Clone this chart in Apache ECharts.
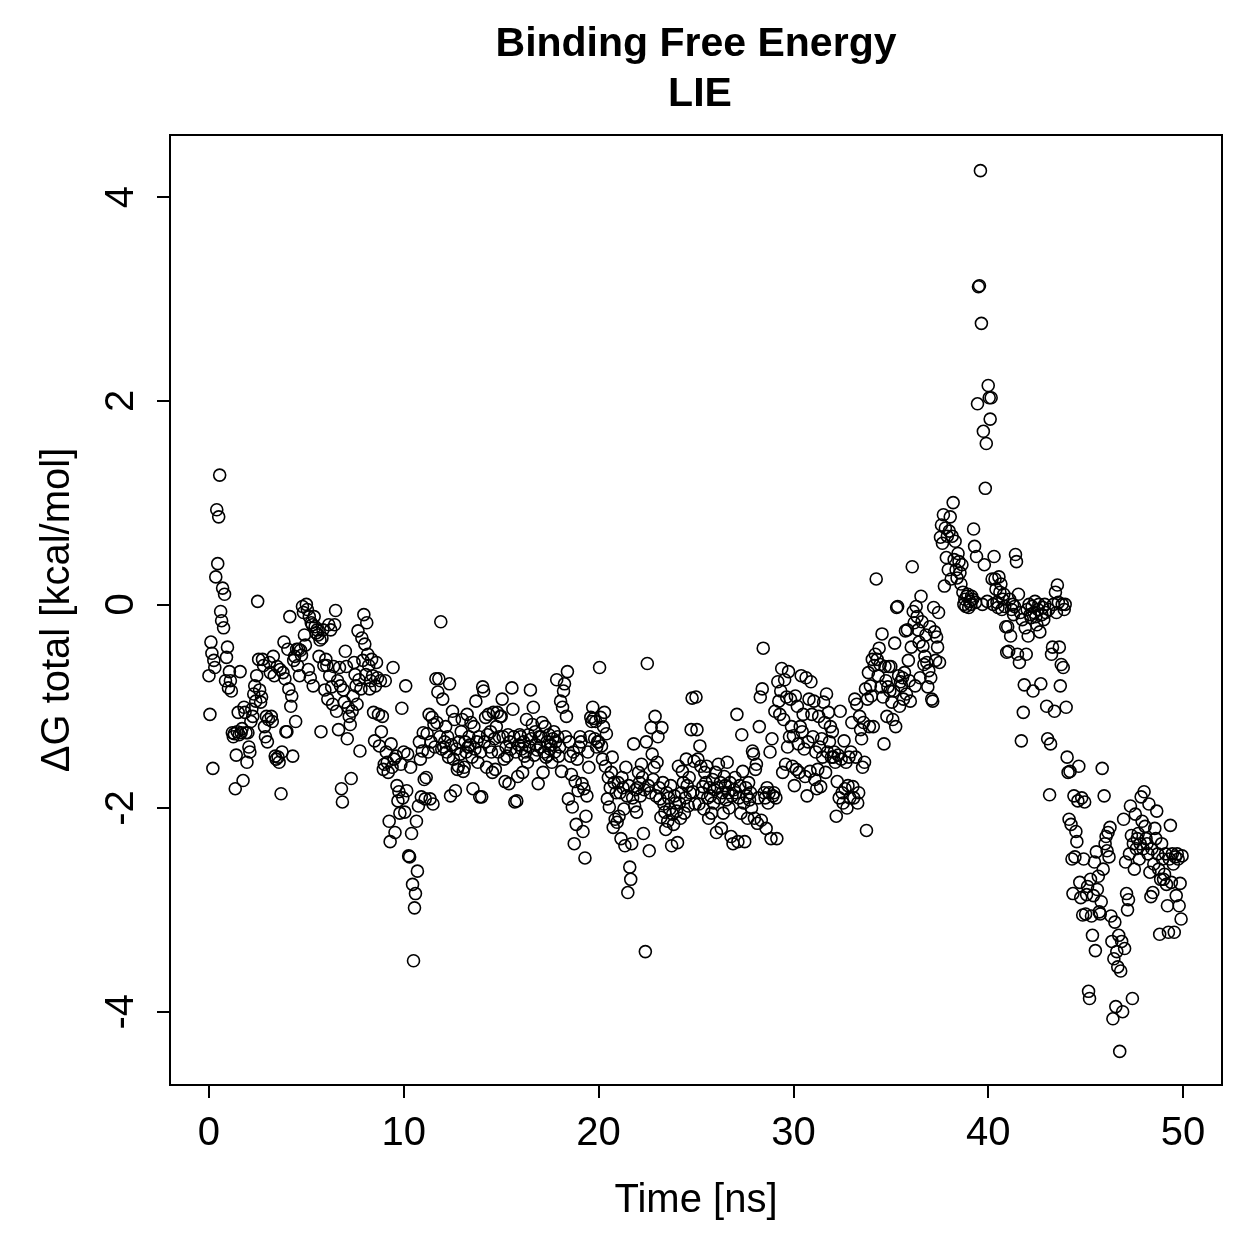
<!DOCTYPE html>
<html>
<head>
<meta charset="utf-8">
<title>Binding Free Energy LIE</title>
<script src="https://cdn.jsdelivr.net/npm/echarts@6/dist/echarts.min.js"></script>
<style>
  html, body { margin: 0; padding: 0; background: #fff; }
  #chart { width: 1259px; height: 1259px; }
</style>
</head>
<body>
<div id="chart"></div>
<script>
// frames are written every 0.05 ns
var frameStep = 0.05

// dG total [kcal/mol], 100 frames per 5 ns
var dG_00_05 = [
  -0.70, -1.08, -0.37, -0.48, -1.61, -0.55, -0.62, 0.27, 0.93, 0.40, 0.86, 1.27, -0.07, -0.16, 0.16, -0.23, 0.10, -0.75, -0.52, -0.42,
  -0.82, -0.66, -0.75, -0.85, -1.26, -1.30, -1.27, -1.81, -1.48, -1.25, -1.06, -1.28, -0.66, -1.26, -1.22, -1.73, -1.01, -1.06, -1.26, -1.55,
  -1.26, -1.40, -1.45, -1.15, -1.03, -1.10, -0.88, -0.80, -0.95, -0.70, 0.03, -0.54, -0.84, -0.96, -0.91, -0.54, -0.60, -1.20, -1.30, -1.10,
  -1.35, -1.13, -0.57, -0.67, -1.10, -1.15, -0.51, -0.70, -1.49, -1.52, -0.61, -1.50, -1.55, -0.64, -1.86, -1.45, -0.67, -0.37, -0.73, -1.25,
  -1.25, -0.44, -0.83, -0.12, -1.00, -0.90, -1.49, -0.55, -0.51, -1.15, -0.44, -0.60, -0.44, -0.70, -0.45, -0.50, -0.02, -0.08, -0.30, -0.40
]
var dG_05_10 = [
  0.00, -0.05, -0.64, -0.12, -0.72, -0.18, -0.20, -0.80, -0.12, -0.22, -0.28, -0.25, -0.30, -0.51, -0.35, -1.25, -0.33, -0.25, -0.60, -0.84,
  -0.54, -0.60, -0.93, -0.20, -0.70, -0.25, -0.81, -0.98, -0.61, -0.20, -0.06, -1.05, -0.75, -1.23, -0.62, -0.80, -1.81, -1.94, -0.84, -0.96,
  -0.46, -0.61, -1.32, -1.01, -1.10, -1.18, -1.71, -1.05, -0.90, -0.57, -0.69, -0.80, -0.98, -0.26, -0.74, -1.44, -0.83, -0.33, -0.55, -0.10,
  -0.39, -0.69, -0.18, -0.49, -0.60, -0.83, -0.75, -0.54, -0.70, -1.06, -1.34, -0.80, -0.57, -0.72, -1.08, -1.39, -0.75, -1.25, -1.10, -1.62,
  -1.57, -0.75, -1.45, -1.55, -1.65, -2.13, -2.33, -1.37, -1.60, -0.62, -1.52, -2.24, -1.49, -1.78, -1.93, -1.84, -2.05, -1.57, -1.02, -1.90
]
var dG_10_15 = [
  -1.45, -2.04, -0.80, -1.83, -1.47, -2.47, -2.48, -1.60, -2.25, -2.75, -3.50, -2.98, -2.84, -2.13, -2.62, -1.98, -1.35, -1.52, -1.89, -1.44,
  -1.26, -1.72, -1.91, -1.70, -1.27, -1.45, -1.08, -1.91, -1.35, -1.11, -1.96, -1.18, -1.40, -0.73, -1.16, -0.86, -0.73, -1.30, -0.17, -1.42,
  -0.93, -1.40, -1.35, -1.20, -1.45, -1.30, -1.50, -0.78, -1.88, -1.38, -1.05, -1.52, -1.13, -1.83, -1.42, -1.62, -1.59, -1.35, -1.47, -1.25,
  -1.13, -1.64, -1.60, -1.35, -1.45, -1.08, -1.40, -1.30, -1.38, -1.16, -1.50, -1.81, -1.20, -1.42, -0.95, -1.35, -1.55, -1.30, -1.89, -1.45,
  -1.89, -0.81, -0.85, -1.35, -1.11, -1.60, -1.28, -1.08, -1.40, -1.25, -1.45, -1.65, -1.06, -1.32, -1.62, -1.20, -1.06, -1.45, -1.30, -1.10
]
var dG_15_20 = [
  -1.10, -0.93, -1.30, -1.52, -1.74, -1.40, -1.49, -1.28, -1.76, -1.35, -1.42, -0.82, -1.03, -1.30, -1.94, -1.45, -1.93, -1.69, -1.38, -1.28,
  -1.30, -1.42, -1.65, -1.35, -1.49, -1.45, -1.13, -1.55, -1.28, -1.40, -0.84, -1.32, -1.18, -1.01, -1.48, -1.25, -1.38, -1.43, -1.76, -1.30,
  -1.40, -1.30, -1.16, -1.65, -1.45, -1.20, -1.50, -1.35, -1.48, -1.28, -1.42, -1.38, -1.55, -1.32, -1.25, -1.45, -1.35, -0.74, -1.30, -1.49,
  -1.40, -0.95, -1.64, -1.01, -0.85, -0.78, -1.30, -1.10, -0.66, -1.91, -1.35, -1.49, -1.67, -1.99, -1.45, -2.35, -1.74, -2.16, -1.52, -1.83,
  -1.40, -1.30, -1.35, -1.76, -2.23, -1.81, -2.49, -2.08, -1.88, -1.45, -1.60, -1.30, -1.11, -1.15, -1.01, -1.12, -1.32, -1.15, -1.40, -1.35
]
var dG_20_25 = [
  -1.35, -0.62, -1.11, -1.39, -1.52, -1.20, -1.06, -1.59, -1.27, -1.91, -1.70, -1.99, -1.80, -1.65, -1.50, -2.19, -1.75, -2.11, -1.85, -2.14,
  -1.75, -2.08, -1.85, -2.30, -1.70, -1.80, -2.01, -2.37, -1.60, -1.88, -2.83, -1.78, -2.58, -2.70, -2.35, -1.90, -1.37, -1.98, -1.82, -2.04,
  -1.80, -1.65, -1.75, -1.88, -1.57, -1.70, -2.25, -1.82, -3.41, -1.35, -0.58, -1.78, -2.42, -1.85, -1.21, -1.47, -1.72, -1.60, -1.10, -1.88,
  -1.55, -1.30, -1.80, -1.91, -2.09, -1.21, -1.75, -1.96, -2.04, -2.21, -1.85, -2.13, -1.90, -2.01, -1.78, -2.37, -2.06, -2.16, -1.88, -1.95,
  -2.03, -2.34, -1.59, -1.95, -2.10, -1.85, -1.64, -1.75, -2.05, -1.90, -1.52, -1.78, -1.98, -1.70, -1.85, -1.23, -0.92, -1.84, -1.54, -1.96
]
var dG_25_30 = [
  -0.91, -1.23, -1.52, -1.96, -1.39, -1.59, -1.85, -1.79, -2.01, -1.65, -1.75, -1.59, -1.90, -2.10, -1.80, -1.88, -2.05, -1.72, -1.95, -1.82,
  -1.65, -2.24, -1.80, -1.57, -1.90, -1.75, -2.20, -1.85, -2.05, -1.69, -1.78, -1.92, -1.55, -1.85, -2.00, -1.75, -2.28, -1.88, -2.35, -1.82,
  -1.70, -1.85, -1.08, -2.33, -1.90, -1.78, -2.05, -1.28, -1.64, -1.95, -2.33, -1.80, -1.88, -2.10, -1.75, -1.92, -1.85, -2.00, -1.44, -1.47,
  -2.10, -1.62, -1.57, -2.15, -1.90, -1.20, -0.91, -2.12, -0.83, -0.43, -1.85, -1.90, -2.20, -1.80, -1.95, -1.85, -1.45, -2.30, -1.32, -1.88,
  -1.85, -1.05, -1.90, -2.30, -0.76, -0.95, -1.08, -0.85, -0.63, -1.65, -1.13, -0.74, -1.57, -0.91, -1.40, -0.66, -1.30, -0.93, -1.20, -1.59
]
var dG_30_35 = [
  -1.29, -1.78, -0.90, -1.62, -1.00, -1.37, -1.65, -1.20, -0.70, -1.25, -1.08, -1.42, -1.69, -0.72, -1.88, -1.35, -0.93, -1.64, -0.76, -1.08,
  -1.30, -0.95, -1.72, -1.45, -1.81, -1.62, -1.10, -1.40, -1.79, -1.32, -1.50, -0.96, -1.16, -1.65, -0.88, -1.45, -1.06, -1.35, -1.20, -1.50,
  -1.25, -1.50, -1.45, -1.55, -2.08, -1.74, -1.48, -1.90, -1.05, -1.52, -1.85, -1.95, -1.34, -1.81, -1.55, -2.00, -1.78, -1.50, -1.90, -1.45,
  -1.16, -1.79, -1.90, -0.93, -1.50, -0.98, -1.95, -1.85, -1.10, -1.23, -1.32, -1.60, -1.16, -1.55, -0.83, -2.22, -0.93, -0.67, -1.20, -0.80,
  -0.90, -0.54, -1.20, -0.60, -0.49, 0.25, -0.54, -0.70, -0.43, -0.59, -0.81, -0.29, -0.91, -1.37, -0.61, -0.75, -1.10, -0.81, -0.61, -0.85
]
var dG_35_40 = [
  -0.61, -0.96, -1.13, -0.85, -0.38, -1.20, -0.03, -0.02, -0.70, -1.00, -0.76, -0.80, -0.72, -0.93, -0.67, -0.26, -0.88, -0.25, -0.55, -0.75,
  -0.95, -0.42, 0.37, -0.07, -0.18, -0.80, -0.02, -0.12, -0.25, -0.37, -0.72, 0.08, -0.17, -0.41, -0.59, -0.51, -0.30, -0.57, -0.81, -0.65,
  -0.22, -0.72, -0.93, -0.95, -0.03, -0.27, -0.55, -0.32, -0.42, -0.08, -0.57, 0.66, 0.78, 0.60, 0.88, 0.18, 0.75, 0.46, 0.67, 0.34,
  0.72, 0.86, 0.25, 0.67, 1.00, 0.44, 0.62, 0.34, 0.26, 0.50, 0.42, 0.31, 0.20, 0.39, 0.12, 0.00, 0.05, -0.02, 0.08, 0.10,
  -0.03, 0.03, 0.00, 0.08, 0.05, 0.74, 0.57, 0.02, 0.47, 1.97, 3.12, 3.13, 4.26, 2.76, 0.00, 1.70, 0.39, 1.14, 1.58, 0.03
]
var dG_40_45 = [
  2.15, 2.03, 1.82, 2.03, 0.25, 0.00, 0.47, 0.25, 0.15, 0.02, -0.03, 0.27, 0.12, 0.20, -0.05, 0.05, 0.10, -0.02, -0.22, -0.47,
  -0.22, -0.46, 0.05, -0.31, -0.05, 0.00, -0.10, -0.02, 0.49, 0.42, -0.49, 0.10, -0.57, -0.08, -1.34, -0.15, -1.06, -0.79, -0.23, -0.49,
  -0.05, -0.31, 0.00, -0.10, -0.13, -0.02, -0.85, -0.08, 0.03, -0.12, -0.20, -0.05, 0.00, -0.27, -0.78, -0.10, -0.03, -0.15, 0.00, -0.08,
  -1.00, -1.32, -0.05, -1.87, -1.37, -0.49, -0.42, 0.00, -1.05, 0.12, -0.08, 0.19, 0.02, -0.42, -0.80, -0.59, 0.00, -0.62, -0.05, 0.00,
  -1.01, -1.50, -1.65, -2.11, -1.64, -2.16, -2.50, -2.84, -1.88, -2.48, -2.23, -2.33, -1.93, -1.59, -2.73, -2.88, -1.90, -3.05, -2.50, -1.94
]
var dG_45_50 = [
  -3.04, -2.85, -2.77, -3.80, -3.87, -2.70, -3.06, -3.25, -2.86, -2.53, -3.40, -2.43, -2.80, -2.67, -3.02, -3.04, -2.92, -1.61, -2.60, -1.88,
  -2.35, -2.28, -2.42, -2.24, -2.48, -2.19, -3.06, -3.31, -4.07, -3.48, -3.12, -3.95, -3.41, -3.56, -3.25, -4.39, -3.60, -3.31, -4.00, -2.11,
  -3.38, -2.53, -2.84, -3.00, -2.90, -2.45, -1.98, -2.27, -3.87, -2.35, -2.60, -2.06, -2.40, -2.30, -2.25, -2.50, -2.35, -1.89, -2.13, -2.40,
  -1.84, -2.18, -2.30, -2.35, -2.45, -1.96, -2.63, -2.87, -2.40, -2.83, -2.55, -2.20, -2.30, -2.03, -2.45, -2.60, -3.24, -2.70, -2.35, -2.50,
  -2.70, -2.65, -2.45, -2.75, -2.96, -3.22, -2.50, -2.17, -2.73, -2.45, -2.55, -3.22, -2.48, -2.86, -2.45, -2.50, -2.96, -2.74, -3.09, -2.47
]

var xTicks = [0, 10, 20, 30, 40, 50]
var yTicks = [-4, -2, 0, 2, 4]

var dG = [].concat(dG_00_05, dG_05_10, dG_10_15, dG_15_20, dG_20_25,
  dG_25_30, dG_30_35, dG_35_40, dG_40_45, dG_45_50)
var points = dG.map(function(v, i) {
  return [+(i * frameStep).toFixed(2), v]
})

var font = '"Liberation Sans", Arial, Helvetica, sans-serif'

var chart = echarts.init(document.getElementById('chart'), null, { renderer: 'canvas' })
chart.setOption({
  animation: false,
  backgroundColor: '#fff',
  textStyle: { fontFamily: font, color: '#000' },
  graphic: [
    {
      type: 'text', x: 696, y: 45,
      style: { text: 'Binding Free Energy', font: 'bold 41px ' + font, fill: '#000', textAlign: 'center', textVerticalAlign: 'middle' }
    },
    {
      type: 'text', x: 700, y: 95,
      style: { text: 'LIE', font: 'bold 41px ' + font, fill: '#000', textAlign: 'center', textVerticalAlign: 'middle' }
    }
  ],
  grid: {
    left: 170, right: 37, top: 135, bottom: 174,
    show: true, borderColor: '#000', borderWidth: 2, backgroundColor: 'transparent'
  },
  xAxis: {
    type: 'value',
    min: -2, max: 52,
    name: 'Time [ns]',
    nameLocation: 'middle',
    nameGap: 96,
    nameTextStyle: { fontSize: 40, color: '#000', fontFamily: font },
    axisLine: { show: true, onZero: false, lineStyle: { color: '#000', width: 2 } },
    axisTick: { show: true, inside: false, customValues: xTicks, length: 13, lineStyle: { color: '#000', width: 2 } },
    axisLabel: { customValues: xTicks, fontSize: 40, color: '#000', margin: 29, fontFamily: font },
    splitLine: { show: false }
  },
  yAxis: {
    type: 'value',
    min: -4.72, max: 4.61,
    name: 'ΔG total [kcal/mol]',
    nameLocation: 'middle',
    nameGap: 92,
    nameTextStyle: { fontSize: 40, color: '#000', fontFamily: font },
    axisLine: { show: true, onZero: false, lineStyle: { color: '#000', width: 2 } },
    axisTick: { show: true, inside: false, customValues: yTicks, length: 13, lineStyle: { color: '#000', width: 2 } },
    axisLabel: { customValues: yTicks, fontSize: 40, color: '#000', margin: 28, rotate: 90, fontFamily: font },
    splitLine: { show: false }
  },
  series: [{
    type: 'scatter',
    data: points,
    symbol: 'circle',
    symbolSize: 12,
    itemStyle: { color: 'rgba(0,0,0,0)', borderColor: '#000', borderWidth: 1.6, opacity: 1 },
    emphasis: { disabled: true }
  }]
})
</script>
</body>
</html>
